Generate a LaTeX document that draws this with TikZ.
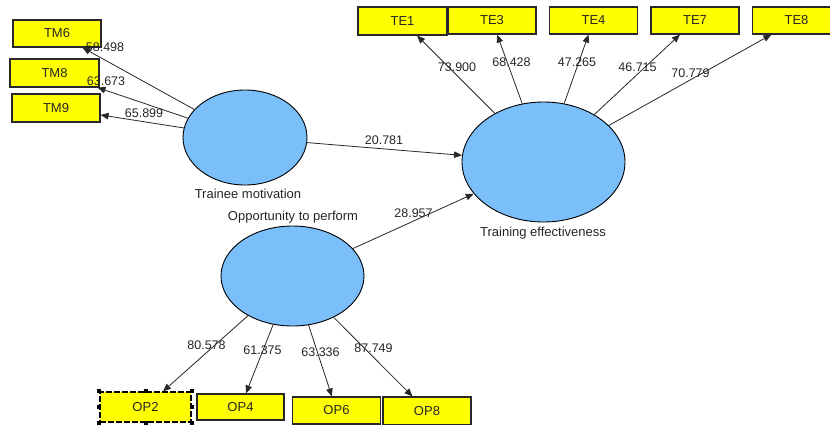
\documentclass[tikz,border=0pt]{standalone}
\usepackage{fontspec}
\setmainfont{Liberation Sans}
\usetikzlibrary{arrows.meta}
\definecolor{lvblue}{RGB}{122,190,250}
\definecolor{mvyellow}{RGB}{255,255,0}
\definecolor{edgegray}{RGB}{40,40,40}
\tikzset{
  mv/.style={draw=edgegray, line width=1.1pt, fill=mvyellow, inner sep=0pt,
             minimum width=88pt, minimum height=27pt,
             font=\fontsize{13}{13}\selectfont, text=black!85},
  lv/.style={ellipse, draw=black, line width=0.9pt, fill=lvblue, inner sep=0pt},
  lvlabel/.style={font=\fontsize{13}{13}\selectfont, text=black!85, inner sep=0pt},
  coef/.style={font=\fontsize{12.5}{12.5}\selectfont, text=black!85, inner sep=0pt},
  conn/.style={draw=edgegray, line width=0.8pt, -{Triangle[length=8pt,width=6.5pt]}},
  handle/.style={fill=black, inner sep=0pt, minimum size=4pt}
}
\usetikzlibrary{shapes.geometric}
\begin{document}
\begin{tikzpicture}[x=1pt,y=-1pt]
\clip (0,0) rectangle (830,424);
\fill[white] (0,0) rectangle (830,424);
% latent variables
\node[lv, minimum width=124pt, minimum height=95pt] (tmot) at (245,137.5) {};
\node[lv, minimum width=163pt, minimum height=120pt] (teff) at (543.5,162) {};
\node[lv, minimum width=143pt, minimum height=100pt] (opp) at (292.5,276) {};
\node[lvlabel] (tmotl) at (248,194) {Trainee motivation};
\node[lvlabel] (teffl) at (543,233) {Training effectiveness};
\node[lvlabel] (oppl) at (293,217) {Opportunity to perform};
% indicators
\node[mv] (TM6) at (57,33.5) {TM6};
\node[mv, minimum width=89pt, minimum height=28pt] (TM8) at (54.5,73) {TM8};
\node[mv, minimum height=28pt] (TM9) at (56,108) {TM9};
\node[mv, minimum width=89pt, minimum height=28pt] (TE1) at (402.5,21) {TE1};
\node[mv] (TE3) at (492,20.5) {TE3};
\node[mv] (TE4) at (593.5,20.5) {TE4};
\node[mv] (TE7) at (695,20.5) {TE7};
\node[mv] (TE8) at (796.5,20.5) {TE8};
\node[mv, draw=black, dash pattern=on 6pt off 2pt, minimum width=91pt, minimum height=30pt] (OP2) at (145.5,407) {OP2};
\node[mv, minimum width=87pt, minimum height=26pt] (OP4) at (240.5,407) {OP4};
\node[mv] (OP6) at (336.5,410.5) {OP6};
\node[mv, minimum height=28pt] (OP8) at (427,411) {OP8};
% selection handles of OP2
\foreach \a in {north west,north,north east,east,south east,south,south west,west}
  \node[handle] at (OP2.\a) {};
% connectors
\draw[conn] (tmot) -- (TM6);
\draw[conn] (tmot) -- (TM8);
\draw[conn] (tmot) -- (TM9);
\draw[conn] (teff) -- (TE1);
\draw[conn] (teff) -- (TE3);
\draw[conn] (teff) -- (TE4);
\draw[conn] (teff) -- (TE7);
\draw[conn] (teff) -- (TE8);
\draw[conn] (opp) -- (OP2);
\draw[conn] (opp) -- (OP4);
\draw[conn] (opp) -- (OP6);
\draw[conn] (opp) -- (OP8);
\draw[conn] (tmot) -- (teff);
\draw[conn] (opp) -- (teff);
% coefficients
\node[coef] (c1) at (105,47) {58.498};
\node[coef] (c2) at (106,81.5) {63.673};
\node[coef] (c3) at (144,113) {65.899};
\node[coef] (c4) at (457,67) {73.900};
\node[coef] (c5) at (511.5,62) {68.428};
\node[coef] (c6) at (577,62) {47.265};
\node[coef] (c7) at (637.5,67) {46.715};
\node[coef] (c8) at (690.5,73) {70.779};
\node[coef] (c9) at (384,140) {20.781};
\node[coef] (c10) at (413.5,213) {28.957};
\node[coef] (c11) at (206.5,345) {80.578};
\node[coef] (c12) at (262.5,350) {61.375};
\node[coef] (c13) at (320.5,352) {63.336};
\node[coef] (c14) at (373.5,348) {87.749};
\end{tikzpicture}
\end{document}
